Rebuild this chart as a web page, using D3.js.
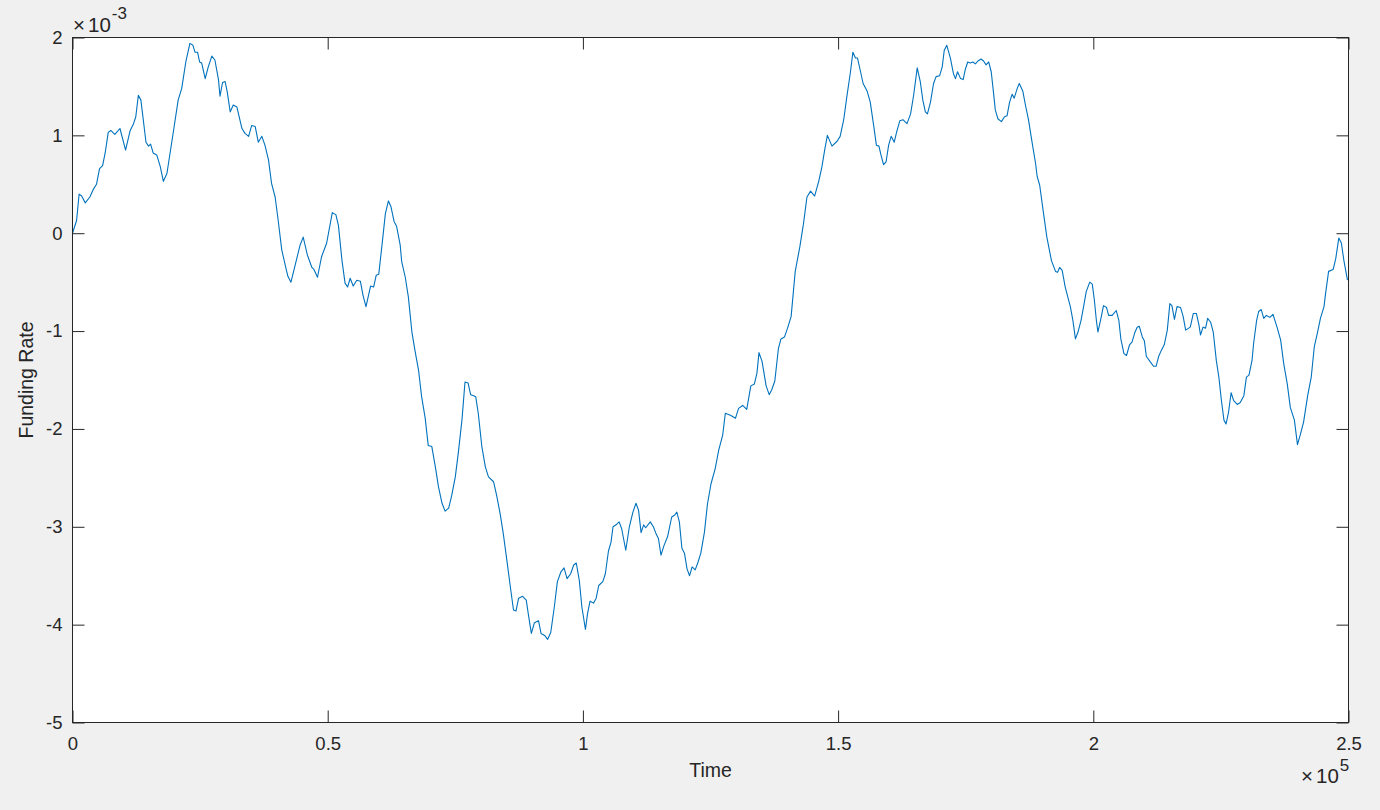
<!DOCTYPE html>
<html>
<head>
<meta charset="utf-8">
<script src="https://cdn.jsdelivr.net/npm/d3@7/dist/d3.min.js"></script>
<style>
  html, body { margin: 0; padding: 0; background: #f0f0f0; }
  svg { display: block; }
  text { font-family: "Liberation Sans", Arial, Helvetica, sans-serif; fill: #262626; }
</style>
</head>
<body>
<svg id="chart" width="1380" height="810"></svg>
<script>
// ---- data ----
const xTickValues = [0, 50000, 100000, 150000, 200000, 250000];
const xTickLabels = ["0", "0.5", "1", "1.5", "2", "2.5"];
const yTickValues = [-5e-3, -4e-3, -3e-3, -2e-3, -1e-3, 0, 1e-3, 2e-3];
const yTickLabels = ["-5", "-4", "-3", "-2", "-1", "0", "1", "2"];
const xLabel = "Time";
const yLabel = "Funding Rate";

const time = [0,800,1300,1800,2500,3400,4000,4700,5300,5900,6400,7000,7500,8300,9300,10400,11300,11900,12400,12900,
13400,14400,14900,15300,15800,16500,17200,17800,18500,19800,20700,21400,22200,23000,23600,24000,24500,24900,25300,26000,
26600,27300,27900,28600,28900,29400,29900,30300,30900,31500,32200,33200,33800,34500,35100,35800,36400,37100,37700,38400,
39000,39700,40300,41000,41700,
42200,42800,43600,44600,45200,46000,46900,47300,48000,48800,49800,50900,51600,52100,52800,53400,53900,54400,55000,55700,
56400,56900,57500,58400,59000,59500,60000,60600,61300,61900,62400,63000,63500,64200,64500,65200,65800,66500,67100,67800,
68400,69100,69700,70400,71100,71700,72400,73000,73700,74300,75000,75600,76300,76900,77500,78000,78600,79000,79500,80200,
80900,81500,82500,83100,83800,84400,85100,85800,86400,86900,87400,88200,88900,89300,89900,90500,91300,91800,92500,93100,
93700,94400,95000,95700,96300,96900,97600,98200,98700,99300,99800,100500,
100900,101400,102100,102600,103100,103900,104400,105000,105500,105900,106500,107100,107600,108400,109100,109800,110400,110900,111400,111900,
112300,113200,113800,114400,114800,115300,115900,116600,117400,118000,118400,118900,119400,119900,120400,120900,121400,122000,122500,123100,
123800,124400,125100,125900,126600,127400,127900,128900,129900,130500,131300,132100,132900,133600,134100,134500,135100,135900,136500,137000,
137600,138300,138800,139500,140100,140800,141600,142500,143200,143900,144600,145400,146200,146800,147400,147900,148800,149800,
150400,151100,151700,152400,152900,153400,153800,154400,154900,155700,156300,157000,157500,158000,158400,158900,159400,159900,160400,161000,
161500,162100,162700,163500,164200,164800,165500,166100,166600,167100,167500,168100,168700,169200,169900,170400,170800,171300,172000,172600,
173000,173400,174000,174500,174900,175400,175900,176400,176900,177400,178000,178500,179000,179500,180000,180400,180800,181300,182000,182600,
183100,183600,184100,184500,185100,185500,186200,186700,187300,188000,188700,189000,189500,190200,190900,191800,192600,193000,193400,193900,
194500,195000,195500,196000,196500,197000,197600,198100,198600,199300,199800,200200,200600,200900,201500,202000,202600,203000,203700,204500,
205000,205400,206000,206500,207100,207600,208100,208600,209000,209600,210000,210400,211100,211800,212300,212800,213300,213900,214500,215000,
215400,215900,216400,217100,217600,218100,218700,219000,219600,220200,220700,221000,221500,222000,222400,223000,223500,224100,224600,225100,
225600,226000,226500,227000,227500,228200,228800,229500,230000,230500,231100,231400,232000,232400,232900,233400,233900,234600,235200,236000,
236700,237300,238000,238600,239400,240000,240600,241200,242000,242700,243300,243900,244500,245200,245500,246100,247000,247500,248100,248600,
249100,249800];

// funding rate in units of 1e-3
const rateE3 = [0,0.13,0.40,0.38,0.31,0.37,0.44,0.50,0.66,0.69,0.82,1.03,1.05,1.01,1.07,0.85,1.05,1.11,1.19,1.41,
1.36,0.93,0.89,0.91,0.82,0.80,0.68,0.53,0.61,1.05,1.36,1.48,1.75,1.94,1.92,1.85,1.85,1.75,1.74,1.58,
1.70,1.81,1.77,1.57,1.40,1.54,1.55,1.45,1.24,1.31,1.29,1.07,1.02,0.99,1.10,1.09,0.93,0.99,0.90,0.75,
0.51,0.37,0.13,-0.17,-0.33,
-0.44,-0.50,-0.33,-0.12,-0.04,-0.22,-0.35,-0.37,-0.45,-0.24,-0.10,0.21,0.19,0.08,-0.28,-0.51,-0.55,-0.46,-0.54,-0.48,
-0.49,-0.63,-0.75,-0.54,-0.55,-0.43,-0.42,-0.14,0.20,0.33,0.27,0.12,0.07,-0.12,-0.29,-0.45,-0.65,-1.01,-1.20,-1.40,
-1.67,-1.89,-2.17,-2.18,-2.39,-2.59,-2.76,-2.84,-2.81,-2.68,-2.49,-2.24,-1.91,-1.52,-1.53,-1.65,-1.66,-1.67,-1.84,-2.18,
-2.39,-2.49,-2.54,-2.68,-2.87,-3.07,-3.34,-3.62,-3.85,-3.86,-3.73,-3.71,-3.75,-3.89,-4.09,-3.98,-3.96,-4.09,-4.11,-4.15,
-4.08,-3.82,-3.56,-3.46,-3.42,-3.53,-3.48,-3.39,-3.37,-3.55,-3.82,-4.05,
-3.89,-3.76,-3.78,-3.73,-3.60,-3.56,-3.48,-3.25,-3.16,-3.00,-2.98,-2.95,-3.02,-3.24,-3.00,-2.85,-2.76,-2.83,-3.06,-2.98,
-3.01,-2.95,-3.00,-3.08,-3.12,-3.29,-3.19,-3.10,-2.90,-2.88,-2.85,-2.95,-3.22,-3.27,-3.43,-3.50,-3.41,-3.44,-3.37,-3.27,
-3.06,-2.77,-2.56,-2.41,-2.22,-2.06,-1.84,-1.86,-1.89,-1.79,-1.76,-1.80,-1.56,-1.54,-1.43,-1.22,-1.31,-1.56,-1.65,-1.60,
-1.51,-1.18,-1.08,-1.06,-0.97,-0.85,-0.39,-0.14,0.09,0.37,0.43,0.38,0.53,0.67,0.86,1.00,0.89,0.94,
0.99,1.16,1.39,1.64,1.85,1.79,1.79,1.65,1.53,1.45,1.34,1.09,0.90,0.89,0.80,0.70,0.73,0.90,0.99,0.93,
1.04,1.15,1.16,1.12,1.22,1.41,1.69,1.55,1.36,1.24,1.22,1.34,1.53,1.60,1.61,1.70,1.87,1.92,1.79,1.63,
1.58,1.65,1.58,1.57,1.67,1.75,1.74,1.75,1.73,1.76,1.78,1.76,1.72,1.75,1.65,1.46,1.26,1.17,1.14,1.19,
1.20,1.34,1.42,1.38,1.48,1.53,1.45,1.31,1.16,0.93,0.71,0.58,0.49,0.22,-0.04,-0.28,-0.39,-0.40,-0.35,-0.38,
-0.55,-0.65,-0.75,-0.89,-1.08,-1.01,-0.89,-0.75,-0.60,-0.50,-0.52,-0.68,-0.89,-1.01,-0.87,-0.74,-0.76,-0.84,-0.84,-0.79,
-0.89,-1.08,-1.23,-1.25,-1.14,-1.11,-1.02,-0.96,-0.95,-1.06,-1.10,-1.26,-1.31,-1.36,-1.36,-1.26,-1.20,-1.14,-0.99,-0.72,
-0.74,-0.88,-0.75,-0.76,-0.85,-0.99,-0.97,-0.96,-0.82,-0.82,-0.94,-1.04,-0.96,-0.97,-0.87,-0.91,-1.01,-1.30,-1.47,-1.71,
-1.91,-1.95,-1.83,-1.63,-1.71,-1.75,-1.73,-1.66,-1.47,-1.45,-1.30,-1.13,-0.89,-0.80,-0.78,-0.87,-0.84,-0.86,-0.83,-0.96,
-1.09,-1.33,-1.54,-1.78,-1.91,-2.16,-2.05,-1.93,-1.66,-1.47,-1.16,-1.02,-0.87,-0.75,-0.62,-0.39,-0.37,-0.26,-0.05,-0.10,
-0.28,-0.48];

const fundingRate = rateE3.map(v => v * 1e-3);
const n = Math.min(time.length, fundingRate.length);
const series = d3.range(n).map(i => ({ t: time[i], r: fundingRate[i] }));

// ---- layout ----
const L = 72.5, R = 1348.5, T = 37.5, B = 722.5;
const tickLen = 12;
const axisColor = "#262626";
const tickFont = 18.5, labelFont = 19.5;

const svg = d3.select("#chart");
const x = d3.scaleLinear().domain([0, 250000]).range([L, R]);
const y = d3.scaleLinear().domain([-5e-3, 2e-3]).range([B, T]);

// axes background
svg.append("rect").attr("x", L).attr("y", T).attr("width", R - L).attr("height", B - T).attr("fill", "#ffffff");

// data line
svg.append("path")
  .datum(series)
  .attr("fill", "none")
  .attr("stroke", "#0072bd")
  .attr("stroke-width", 1.1)
  .attr("stroke-linejoin", "round")
  .attr("d", d3.line().x(d => x(d.t)).y(d => y(d.r)));

// axes via d3 (ticks inward)
function styleAxis(g) {
  g.select(".domain").remove();
  g.selectAll(".tick line").attr("stroke", axisColor).attr("stroke-width", 1);
  g.selectAll(".tick text").attr("fill", axisColor)
    .style("font-size", tickFont + "px")
    .style("font-family", '"Liberation Sans", Arial, Helvetica, sans-serif');
}
const xi = v => xTickLabels[xTickValues.indexOf(v)];
const yi = v => yTickLabels[yTickValues.indexOf(v)];

svg.append("g").attr("transform", `translate(0,${B})`)
  .call(d3.axisBottom(x).tickValues(xTickValues).tickFormat(xi).tickSizeInner(-tickLen).tickSizeOuter(0).tickPadding(14))
  .call(styleAxis);
svg.append("g").attr("transform", `translate(0,${T})`)
  .call(d3.axisTop(x).tickValues(xTickValues).tickFormat("").tickSizeInner(-tickLen).tickSizeOuter(0))
  .call(styleAxis);
svg.append("g").attr("transform", `translate(${L},0)`)
  .call(d3.axisLeft(y).tickValues(yTickValues).tickFormat(yi).tickSizeInner(-tickLen).tickSizeOuter(0).tickPadding(10))
  .call(styleAxis);
svg.append("g").attr("transform", `translate(${R},0)`)
  .call(d3.axisRight(y).tickValues(yTickValues).tickFormat("").tickSizeInner(-tickLen).tickSizeOuter(0))
  .call(styleAxis);

// box
svg.append("rect").attr("x", L).attr("y", T).attr("width", R - L).attr("height", B - T)
  .attr("fill", "none").attr("stroke", axisColor).attr("stroke-width", 1);

// exponent labels
const ey = svg.append("text").attr("x", 73).attr("y", 32).style("font-size", "20.5px");
ey.append("tspan").text("\u00d7");
ey.append("tspan").attr("dx", 3).text("10");
ey.append("tspan").attr("dy", -13).attr("dx", 1).style("font-size", "17px").text("-3");

const ex = svg.append("text").attr("x", 1301).attr("y", 783).style("font-size", "20.5px");
ex.append("tspan").text("\u00d7");
ex.append("tspan").attr("dx", 3).text("10");
ex.append("tspan").attr("dy", -12).attr("dx", 1).style("font-size", "17px").text("5");

// axis titles
svg.append("text").attr("x", (L + R) / 2).attr("y", 777).attr("text-anchor", "middle")
  .style("font-size", labelFont + "px").text(xLabel);
svg.append("text").attr("transform", `translate(33,${(T + B) / 2}) rotate(-90)`).attr("text-anchor", "middle")
  .style("font-size", labelFont + "px").text(yLabel);
</script>
</body>
</html>
